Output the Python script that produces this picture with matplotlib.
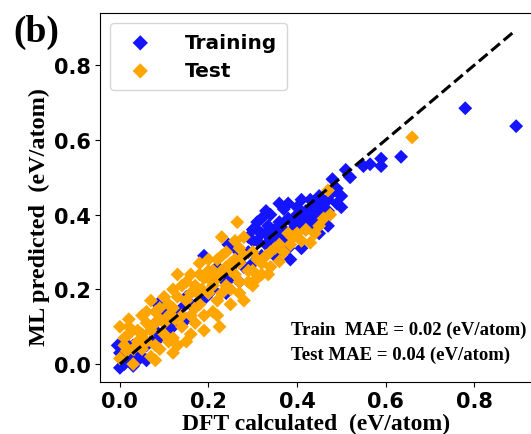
import matplotlib
matplotlib.use("Agg")
import matplotlib.pyplot as plt

# Training set: DFT formation energy vs ML prediction (eV/atom)
train_dft = [0.00, 0.01, 0.00, -0.005, 0.02, 0.03, 0.04, 0.01, 0.05, 0.06,
             0.07, 0.08, 0.09, 0.10, 0.085, 0.12, 0.13, 0.15, 0.16, 0.18,
             0.195, 0.21, 0.22, 0.19, 0.24, 0.25, 0.245, 0.26, 0.28, 0.29,
             0.30, 0.31, 0.31, 0.32, 0.33, 0.34, 0.335, 0.35, 0.36, 0.37,
             0.37, 0.38, 0.385, 0.39, 0.40, 0.41, 0.41, 0.42, 0.42, 0.43,
             0.44, 0.45, 0.45, 0.46, 0.47, 0.48, 0.49, 0.50, 0.50, 0.51,
             0.52, 0.55, 0.565, 0.59, 0.59, 0.635, 0.78, 0.895, 0.33, 0.36,
             0.43, 0.39, 0.06, 0.02, 0.04, 0.14, 0.11, 0.27, 0.23, 0.30,
             0.35, 0.44, 0.47, 0.38, 0.34, 0.32, 0.36,
             0.29, 0.30, 0.32, 0.33, 0.35, 0.38, 0.40, 0.43, 0.45, 0.46,
             0.48, 0.49, 0.40, 0.42, 0.44, 0.47, 0.36, 0.31, 0.26, 0.27,
             0.21, 0.17, 0.15, 0.12, 0.08, 0.03, 0.05, 0.37, 0.41, 0.39]
train_ml = [-0.01, 0.00, 0.03, 0.05, 0.02, -0.005, 0.01, 0.06, 0.02, 0.05,
            0.06, 0.09, 0.07, 0.14, 0.16, 0.10, 0.13, 0.12, 0.16, 0.17,
            0.18, 0.20, 0.26, 0.29, 0.19, 0.23, 0.32, 0.27, 0.26, 0.30,
            0.33, 0.36, 0.38, 0.35, 0.32, 0.40, 0.37, 0.34, 0.38, 0.415,
            0.36, 0.31, 0.28, 0.38, 0.40, 0.44, 0.31, 0.39, 0.36, 0.41,
            0.38, 0.42, 0.35, 0.40, 0.44, 0.495, 0.47, 0.45, 0.42, 0.52,
            0.50, 0.53, 0.535, 0.55, 0.53, 0.555, 0.685, 0.637, 0.35, 0.33,
            0.37, 0.34, 0.01, 0.045, 0.035, 0.15, 0.09, 0.22, 0.23, 0.27,
            0.29, 0.43, 0.37, 0.43, 0.335, 0.29, 0.43,
            0.34, 0.36, 0.39, 0.41, 0.36, 0.39, 0.37, 0.44, 0.45, 0.43,
            0.46, 0.43, 0.42, 0.41, 0.40, 0.41, 0.35, 0.33, 0.31, 0.29,
            0.24, 0.20, 0.18, 0.13, 0.11, 0.05, 0.06, 0.33, 0.38, 0.36]

# Test set
test_dft = [0.00, 0.00, 0.01, 0.02, 0.03, 0.04, 0.05, 0.06, 0.07, 0.07,
            0.08, 0.09, 0.10, 0.11, 0.12, 0.13, 0.13, 0.14, 0.15, 0.16,
            0.17, 0.18, 0.18, 0.19, 0.20, 0.20, 0.21, 0.22, 0.225, 0.23,
            0.24, 0.25, 0.265, 0.27, 0.28, 0.29, 0.30, 0.31, 0.32, 0.335,
            0.35, 0.36, 0.38, 0.385, 0.41, 0.43, 0.45, 0.475, 0.47, 0.66,
            0.03, 0.05, 0.08, 0.10, 0.12, 0.14, 0.15, 0.16, 0.17, 0.19,
            0.21, 0.22, 0.23, 0.24, 0.26, 0.27, 0.28, 0.26, 0.30, 0.33,
            0.34, 0.37, 0.40, 0.11, 0.06, 0.09, 0.02, 0.015, 0.175, 0.125,
            0.20, 0.25, 0.185,
            0.01, 0.02, 0.04, 0.05, 0.06, 0.07, 0.08, 0.09, 0.10, 0.11,
            0.12, 0.13, 0.14, 0.15, 0.16, 0.16, 0.17, 0.18, 0.19, 0.20,
            0.21, 0.22, 0.23, 0.23, 0.24, 0.25, 0.26, 0.27, 0.28, 0.29,
            0.30, 0.31, 0.32, 0.34, 0.36, 0.39, 0.42, 0.44, 0.46, 0.22,
            0.25, 0.27, 0.12, 0.08]
test_ml = [0.10, 0.015, 0.07, 0.12, 0.04, 0.09, 0.13, 0.06, 0.02, 0.17,
           0.11, 0.04, 0.08, 0.13, 0.20, 0.05, 0.24, 0.10, 0.17, 0.13,
           0.21, 0.27, 0.16, 0.09, 0.28, 0.19, 0.14, 0.23, 0.10, 0.34,
           0.26, 0.20, 0.38, 0.31, 0.17, 0.25, 0.30, 0.23, 0.27, 0.24,
           0.31, 0.275, 0.35, 0.32, 0.33, 0.325, 0.37, 0.40, 0.465, 0.607,
           0.00, 0.08, 0.14, 0.18, 0.07, 0.21, 0.06, 0.24, 0.11, 0.23,
           0.25, 0.17, 0.29, 0.21, 0.28, 0.22, 0.34, 0.33, 0.21, 0.29,
           0.26, 0.30, 0.35, 0.16, 0.11, 0.15, 0.08, 0.035, 0.19, 0.12,
           0.23, 0.25, 0.20,
           0.05, 0.10, 0.06, 0.04, 0.14, 0.09, 0.05, 0.12, 0.11, 0.06,
           0.15, 0.18, 0.13, 0.22, 0.19, 0.08, 0.15, 0.24, 0.13, 0.25,
           0.21, 0.28, 0.19, 0.25, 0.30, 0.27, 0.24, 0.27, 0.29, 0.22,
           0.25, 0.28, 0.24, 0.30, 0.32, 0.34, 0.36, 0.35, 0.39, 0.13,
           0.16, 0.19, 0.03, 0.01]

parity = [0.0, 0.89]
xticks = [0.0, 0.2, 0.4, 0.6, 0.8]
yticks = [0.0, 0.2, 0.4, 0.6, 0.8]

fig = plt.figure(figsize=(5.31, 4.35), dpi=100)
ax = fig.add_axes([100 / 531, 52 / 435, 433 / 531, 369 / 435])

ax.scatter(train_dft, train_ml, marker='D', s=50, color='#1414ff',
           edgecolors='none', label='Training', zorder=2)
ax.scatter(test_dft, test_ml, marker='D', s=50, color='orange',
           edgecolors='none', label='Test', zorder=3)
ax.plot(parity, parity, ls='--', color='black', lw=2.2, zorder=4)

ax.set_xlim(-0.045, 0.933)
ax.set_ylim(-0.048, 0.94)
ax.set_xticks(xticks)
ax.set_yticks(yticks)
ax.tick_params(labelsize=15, pad=3)
for lab in ax.get_xticklabels() + ax.get_yticklabels():
    lab.set_fontweight('bold')
ax.spines['right'].set_visible(False)

serif = ['Liberation Serif', 'DejaVu Serif']
ax.set_xlabel('DFT calculated  (eV/atom)', family=serif, fontweight='bold',
              fontsize=17, labelpad=1)
ax.set_ylabel('ML predicted  (eV/atom)', family=serif, fontweight='bold',
              fontsize=17.5)
ax.yaxis.set_label_coords(-0.115, 0.45)

ax.legend(loc='upper left', prop={'weight': 'bold', 'size': 14.5},
          markerscale=1.1, labelspacing=0.45, borderpad=0.5,
          handletextpad=1.2, borderaxespad=0.5)

ax.text(0.44, 0.13, 'Train  MAE = 0.02 (eV/atom)', transform=ax.transAxes,
        family=serif, fontweight='bold', fontsize=13.5, va='baseline')
ax.text(0.44, 0.062, 'Test MAE = 0.04 (eV/atom)', transform=ax.transAxes,
        family=serif, fontweight='bold', fontsize=13.5, va='baseline')

fig.text(13 / 531, 1 - 15 / 435, '(b)', family=serif, fontweight='bold',
         fontsize=27, ha='left', va='top')

fig.savefig('out.png', dpi=100)
